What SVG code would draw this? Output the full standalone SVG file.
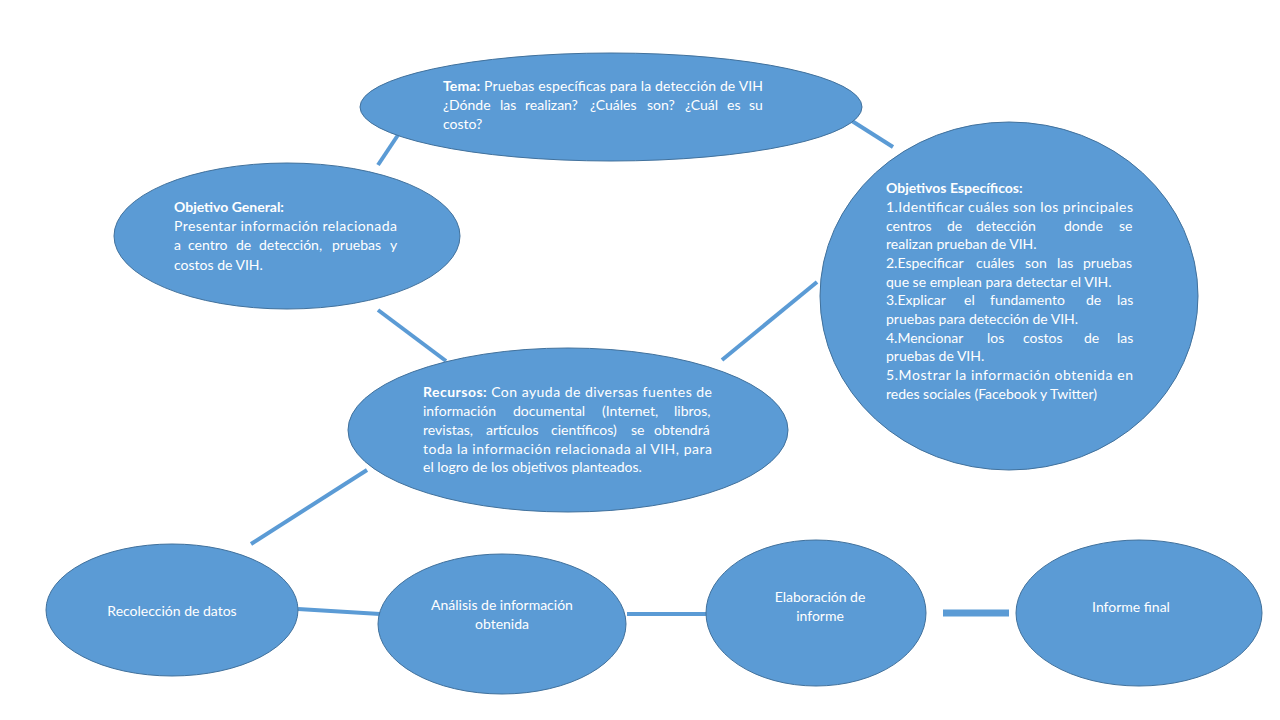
<svg xmlns="http://www.w3.org/2000/svg" width="1280" height="720" viewBox="0 0 1280 720">
<style>
.node{fill:#5b9bd5;stroke:#41719c;stroke-width:1}
.conn{stroke:#5b9bd5;stroke-width:4;fill:none}
.t{font-family:Lato,"Liberation Sans",sans-serif;font-size:14px;fill:#ffffff}
.c{text-anchor:middle}
.b{font-weight:bold}
</style>
<rect width="1280" height="720" fill="#ffffff"/>
<g id="connectors">
<line class="conn" x1="378" y1="165" x2="398" y2="135"/>
<line class="conn" x1="852" y1="121" x2="893" y2="147"/>
<line class="conn" x1="378" y1="310" x2="446" y2="361"/>
<line class="conn" x1="722" y1="360" x2="817" y2="282"/>
<line class="conn" x1="367" y1="470" x2="251" y2="544"/>
<line class="conn" x1="298" y1="609" x2="380" y2="614"/>
<line class="conn" x1="627" y1="614" x2="706" y2="614"/>
<line class="conn" x1="943" y1="613" x2="1009" y2="613" style="stroke-width:7"/>
</g>
<g id="tema">
<ellipse class="node" cx="611" cy="107" rx="251" ry="54"/>
<text class="t" x="443" y="91" textLength="320" lengthAdjust="spacing"><tspan class="b">Tema:</tspan> Pruebas específicas para la detección de VIH</text>
<text class="t" y="110"><tspan x="443">¿Dónde</tspan> <tspan x="500">las</tspan> <tspan x="525">realizan?</tspan> <tspan x="590">¿Cuáles</tspan> <tspan x="647">son?</tspan> <tspan x="685">¿Cuál</tspan> <tspan x="727">es</tspan> <tspan x="749">su</tspan></text>
<text class="t" x="443" y="129">costo?</text>
</g>
<g id="objetivo-general">
<ellipse class="node" cx="287" cy="236" rx="173" ry="73"/>
<text class="t b" x="174" y="212">Objetivo General:</text>
<text class="t" x="174" y="231" textLength="223" lengthAdjust="spacing">Presentar información relacionada</text>
<text class="t" y="250"><tspan x="174">a</tspan> <tspan x="188">centro</tspan> <tspan x="236">de</tspan> <tspan x="259">detección,</tspan> <tspan x="332">pruebas</tspan> <tspan x="390">y</tspan></text>
<text class="t" x="174" y="270">costos de VIH.</text>
</g>
<g id="objetivos-especificos">
<ellipse class="node" cx="1009" cy="296" rx="189" ry="174"/>
<text class="t b" x="886" y="193">Objetivos Específicos:</text>
<text class="t" x="886" y="212" textLength="247" lengthAdjust="spacing">1.Identificar cuáles son los principales</text>
<text class="t" y="230.5"><tspan x="886">centros</tspan> <tspan x="947">de</tspan> <tspan x="976">detección</tspan>  <tspan x="1064">donde</tspan> <tspan x="1119">se</tspan></text>
<text class="t" x="886" y="249">realizan prueban de VIH.</text>
<text class="t" y="268"><tspan x="886">2.Especificar</tspan> <tspan x="976">cuáles</tspan> <tspan x="1025">son</tspan> <tspan x="1057">las</tspan> <tspan x="1083">pruebas</tspan></text>
<text class="t" x="886" y="286.5">que se emplean para detectar el VIH.</text>
<text class="t" y="305"><tspan x="886">3.Explicar</tspan> <tspan x="964">el</tspan> <tspan x="990">fundamento</tspan> <tspan x="1086">de</tspan> <tspan x="1117">las</tspan></text>
<text class="t" x="886" y="324">pruebas para detección de VIH.</text>
<text class="t" y="342.5"><tspan x="886">4.Mencionar</tspan> <tspan x="987">los</tspan> <tspan x="1023">costos</tspan> <tspan x="1084">de</tspan> <tspan x="1117">las</tspan></text>
<text class="t" x="886" y="361">pruebas de VIH.</text>
<text class="t" x="886" y="380" textLength="247" lengthAdjust="spacing">5.Mostrar la información obtenida en</text>
<text class="t" x="886" y="398.5">redes sociales (Facebook y Twitter)</text>
</g>
<g id="recursos">
<ellipse class="node" cx="568" cy="430" rx="220" ry="82"/>
<text class="t" x="423" y="397" textLength="289" lengthAdjust="spacing"><tspan class="b">Recursos:</tspan> Con ayuda de diversas fuentes de</text>
<text class="t" y="416"><tspan x="423">información</tspan> <tspan x="513">documental</tspan> <tspan x="602">(Internet,</tspan> <tspan x="674">libros,</tspan></text>
<text class="t" y="435"><tspan x="423">revistas,</tspan> <tspan x="486">artículos</tspan> <tspan x="551">científicos)</tspan> <tspan x="631">se</tspan> <tspan x="654">obtendrá</tspan></text>
<text class="t" x="423" y="453.5" textLength="289" lengthAdjust="spacing">toda la información relacionada al VIH, para</text>
<text class="t" x="423" y="472">el logro de los objetivos planteados.</text>
</g>
<g id="recoleccion">
<ellipse class="node" cx="172" cy="610" rx="126" ry="66"/>
<text class="t c" x="172" y="616">Recolección de datos</text>
</g>
<g id="analisis">
<ellipse class="node" cx="502" cy="624" rx="124" ry="70"/>
<text class="t c" x="502" y="610">Análisis de información</text>
<text class="t c" x="502" y="629">obtenida</text>
</g>
<g id="elaboracion">
<ellipse class="node" cx="816" cy="613" rx="110" ry="73"/>
<text class="t c" x="820" y="602">Elaboración de</text>
<text class="t c" x="820" y="621">informe</text>
</g>
<g id="informe-final">
<ellipse class="node" cx="1139" cy="613" rx="123" ry="73"/>
<text class="t c" x="1131" y="612">Informe final</text>
</g>
</svg>
